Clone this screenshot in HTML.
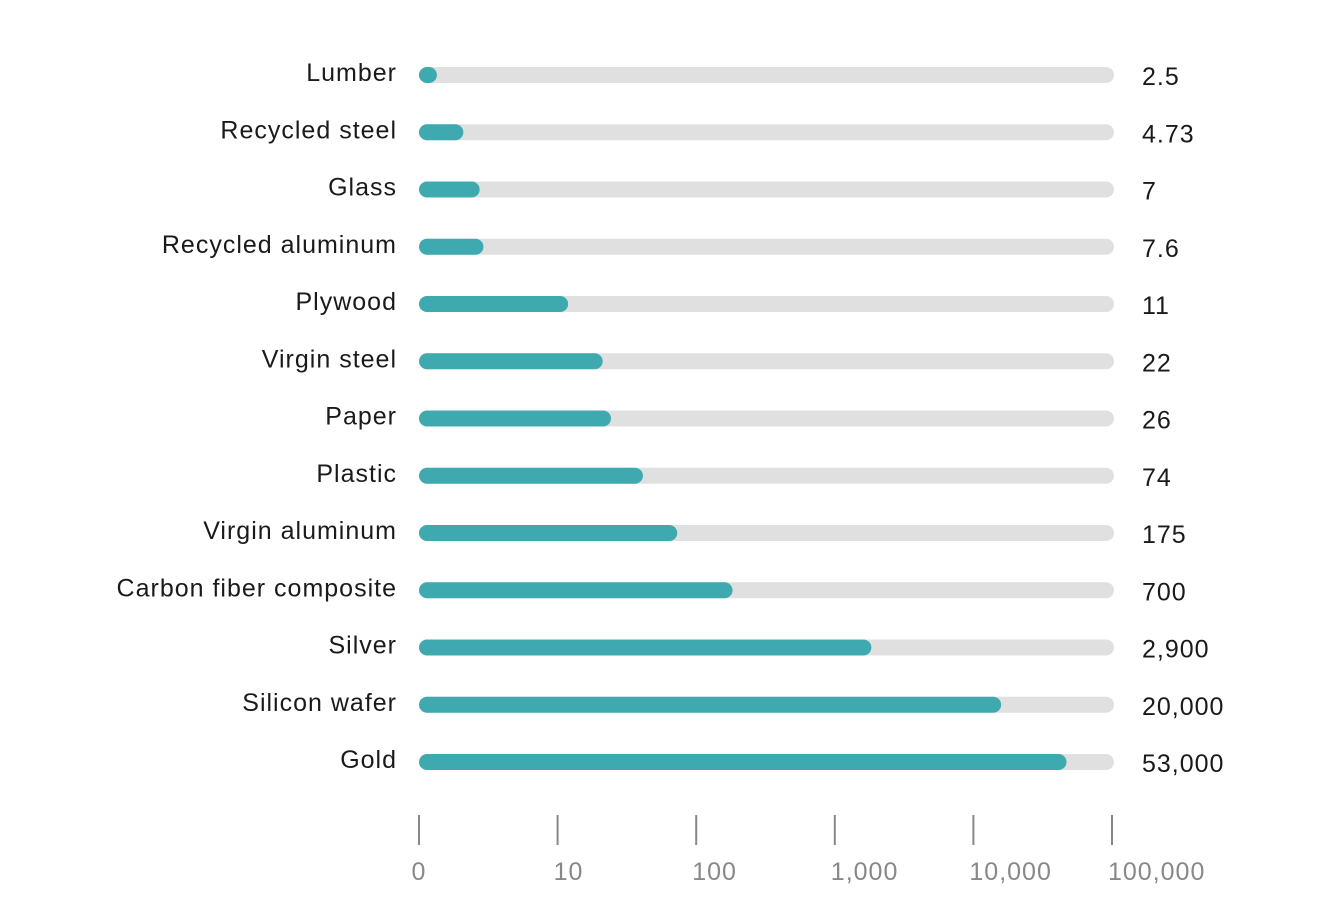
<!DOCTYPE html>
<html><head><meta charset="utf-8"><style>
html,body{margin:0;padding:0;background:#fff;}
svg{display:block;font-family:"Liberation Sans",sans-serif;}
</style></head><body>
<svg id="chart" width="1326" height="914" viewBox="0 0 1326 914"></svg>
<script>
const categories = ["Lumber","Recycled steel","Glass","Recycled aluminum","Plywood","Virgin steel","Paper","Plastic","Virgin aluminum","Carbon fiber composite","Silver","Silicon wafer","Gold"];
const values = [2.5,4.73,7,7.6,11,22,26,74,175,700,2900,20000,53000];
const valueLabels = ["2.5","4.73","7","7.6","11","22","26","74","175","700","2,900","20,000","53,000"];
const tickValues = [1,10,100,1000,10000,100000];
const tickLabels = ["0","10","100","1,000","10,000","100,000"];

const NS="http://www.w3.org/2000/svg";
const svg=document.getElementById('chart');
function mk(t,a){const e=document.createElementNS(NS,t);for(const k in a)e.setAttribute(k,a[k]);svg.appendChild(e);return e;}
const trackL=419, trackR=1114;
function axisX(v){return 419+138.6*Math.log10(v);}
// piecewise log scale matching the reference's bar rendering
const bd=[0,0.4,0.88,1.04,1.415,1.87,2.85,3.46,4.72,5];
const br=[419,437,483,568,611,643,733,871,1066,1100];
function barX(v){
  const l=Math.log10(Math.max(v,1));
  for(let k=0;k<bd.length-1;k++){
    if(l<=bd[k+1]){const t=(l-bd[k])/(bd[k+1]-bd[k]);return Math.max(trackL+17,br[k]+t*(br[k+1]-br[k]));}
  }
  return trackR;
}
function rowY(i){return 75+i*57.25;}
const lblStyle='letter-spacing:1px';
categories.forEach((c,i)=>{
  const y=rowY(i);
  const tr=mk('rect',{x:trackL,y:y-8,width:trackR-trackL,height:16,rx:8,fill:'#e0e0e0'});
  
  
  const b=mk('rect',{x:trackL,y:y-8,width:barX(values[i])-trackL,height:16,rx:8,fill:'#3fa9b0'});
  
  
  const l=mk('text',{x:397,y:y+6,'text-anchor':'end','font-size':25,fill:'#1a1a1a',style:lblStyle});
  l.textContent=c;
  
  
  const v=mk('text',{x:1142,y:y+10,'font-size':25,fill:'#1a1a1a',style:lblStyle});
  v.textContent=valueLabels[i];
  
  
});
tickValues.forEach((t,i)=>{
  const x=axisX(t);
  const tk=mk('line',{x1:x,x2:x,y1:815,y2:845,stroke:'#888',"stroke-width":2});
  
  
  const tl=mk('text',{x:i==0?x:x-4,y:880,'text-anchor':i==0?'middle':'start','font-size':25,fill:'#888',style:lblStyle});
  tl.textContent=tickLabels[i];
  
  
});
</script>
</body></html>
